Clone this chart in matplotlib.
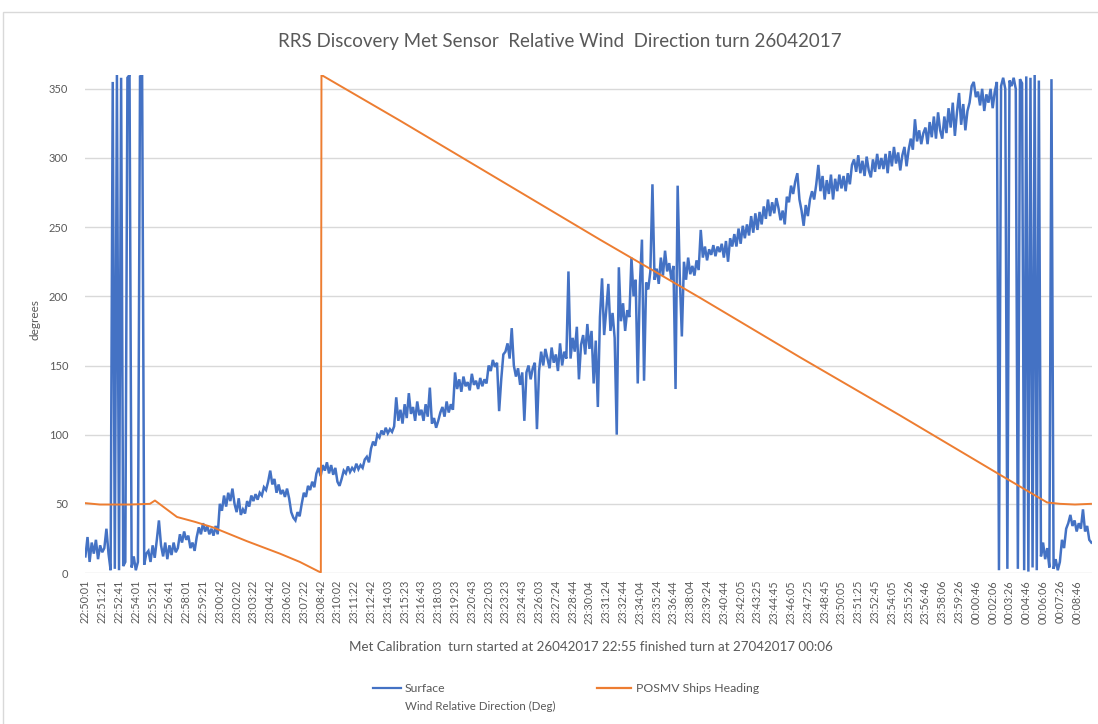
import matplotlib
matplotlib.use("Agg")
import matplotlib.pyplot as plt
import numpy as np
from matplotlib.lines import Line2D
from matplotlib.patches import Rectangle

plt.rcParams['font.family'] = ['Lato', 'DejaVu Sans']

title = "RRS Discovery Met Sensor  Relative Wind  Direction turn 26042017"
xlabel = "Met Calibration  turn started at 26042017 22:55 finished turn at 27042017 00:06"
ylabel = "degrees"
series_names = ["Surface\nWind Relative Direction (Deg)", "POSMV Ships Heading"]

tick_labels = [
    "22:50:01", "22:51:21", "22:52:41", "22:54:01", "22:55:21", "22:56:41", "22:58:01", "22:59:21",
    "23:00:42", "23:02:02", "23:03:22", "23:04:42", "23:06:02", "23:07:22", "23:08:42", "23:10:02",
    "23:11:22", "23:12:42", "23:14:03", "23:15:23", "23:16:43", "23:18:03", "23:19:23", "23:20:43",
    "23:22:03", "23:23:23", "23:24:43", "23:26:03", "23:27:24", "23:28:44", "23:30:04", "23:31:24",
    "23:32:44", "23:34:04", "23:35:24", "23:36:44", "23:38:04", "23:39:24", "23:40:44", "23:42:05",
    "23:43:25", "23:44:45", "23:46:05", "23:47:25", "23:48:45", "23:50:05", "23:51:25", "23:52:45",
    "23:54:05", "23:55:26", "23:56:46", "23:58:06", "23:59:26", "00:00:46", "00:02:06", "00:03:26",
    "00:04:46", "00:06:06", "00:07:26", "00:08:46",
]
tick_step_s = 80  # seconds between category labels

# Surface wind relative direction, one reading every 10 s from 22:50:01
wind_step_s = 10
wind_dir = [
    12, 26, 8, 22, 14, 24, 10, 20, 15, 18,
    32, 14, 2, 355, 3, 360, 2, 358, 5, 8,
    358, 360, 4, 12, 2, 8, 359, 360, 6, 14,
    16, 8, 20, 11, 24, 38, 20, 12, 22, 10,
    20, 13, 22, 15, 18, 28, 22, 30, 24, 27,
    18, 22, 16, 26, 33, 28, 36, 30, 34, 28,
    32, 27, 34, 28, 50, 45, 56, 48, 58, 52,
    61, 50, 44, 54, 42, 46, 43, 52, 48, 56,
    52, 57, 53, 58, 56, 62, 60, 66, 74, 64,
    68, 58, 64, 57, 60, 55, 61, 54, 44, 40,
    38, 44, 41, 50, 58, 55, 63, 60, 66, 62,
    72, 76, 70, 78, 74, 80, 72, 78, 71, 76,
    66, 63, 68, 74, 72, 77, 73, 76, 74, 79,
    75, 78, 76, 82, 84, 80, 90, 95, 92, 100,
    98, 103, 100, 105, 101, 104, 102, 106, 127, 110,
    118, 108, 122, 112, 130, 115, 120, 110, 124, 114,
    118, 110, 122, 113, 134, 108, 112, 105, 110, 116,
    120, 113, 124, 116, 122, 118, 145, 133, 140, 131,
    142, 135, 138, 132, 144, 136, 139, 133, 141, 135,
    140, 137, 150, 146, 154, 149, 152, 117, 140, 158,
    160, 166, 155, 177, 150, 142, 148, 136, 145, 110,
    145, 150, 140, 148, 152, 104, 146, 160, 150, 162,
    155, 148, 163, 152, 158, 146, 166, 150, 160, 155,
    218, 155, 170, 160, 178, 140, 165, 172, 158, 180,
    162, 175, 137, 168, 120, 185, 213, 172, 190, 209,
    175, 188, 170, 100, 221, 182, 195, 175, 190, 185,
    228, 200, 212, 137, 208, 241, 139, 210, 205, 218,
    281, 212, 220, 209, 228, 215, 233, 218, 224, 212,
    222, 133, 280, 215, 171, 225, 212, 228, 216, 222,
    215, 226, 219, 248, 228, 236, 226, 234, 230, 237,
    229, 236, 232, 238, 228, 240, 225, 242, 236, 245,
    236, 249, 238, 251, 242, 252, 244, 258, 246, 260,
    248, 261, 252, 265, 256, 270, 258, 268, 260, 271,
    264, 255, 262, 252, 272, 268, 280, 274, 283, 289,
    270, 262, 251, 266, 258, 270, 276, 270, 281, 295,
    276, 287, 270, 284, 274, 288, 270, 285, 276, 288,
    278, 287, 276, 289, 281, 295, 299, 290, 302, 289,
    298, 287, 301, 291, 286, 299, 290, 303, 292, 300,
    292, 303, 289, 305, 294, 308, 296, 304, 291, 302,
    308, 294, 306, 314, 306, 328, 312, 320, 310, 318,
    322, 310, 326, 315, 330, 314, 333, 320, 314, 330,
    318, 336, 322, 340, 316, 333, 347, 324, 339, 320,
    334, 340, 352, 355, 344, 348, 338, 350, 334, 346,
    340, 350, 336, 348, 355, 2, 352, 358, 350, 3,
    356, 352, 358, 350, 3, 357, 354, 2, 359, 1,
    358, 4, 360, 2, 356, 12, 22, 10, 18, 4,
    357, 3, 10, 2, 8, 24, 18, 32, 36, 42,
    34, 38, 30, 36, 32, 46, 30, 34, 24, 22,
]

# POSMV ships heading: (seconds after 22:50:01, degrees)
heading_t = [0, 69, 212, 307, 331, 436, 521, 607, 769, 926, 1021, 1112, 1121,
             1124, 1498, 1974, 2450, 2926, 3402, 3878, 4355, 4579, 4641, 4712, 4788]
heading = [50.5, 49.5, 49.5, 50, 52.4, 40.5, 37, 33, 23, 14, 8, 1, 0.5,
           360, 327, 284, 241, 199, 156, 114, 71, 51, 50, 49.5, 50]

BLUE = "#4472C4"
ORANGE = "#ED7D31"
GRID = "#D9D9D9"
TXT = "#595959"

W, H = 1098, 724
fig = plt.figure(figsize=(W / 100, H / 100), dpi=100)
fig.patch.set_facecolor("white")

# chart border
fig.add_artist(Rectangle((3 / W, -0.05), 1.2, (H - 12) / H + 0.05, transform=fig.transFigure,
                         fill=False, edgecolor=GRID, linewidth=1.0))

ax = fig.add_axes([85 / W, 1 - 573 / H, (1092 - 85) / W, (573 - 75) / H])
wind_t = np.arange(len(wind_dir)) * wind_step_s
ax.plot(wind_t, wind_dir, color=BLUE, lw=1.8, solid_joinstyle="miter", zorder=3)
ax.plot(heading_t, heading, color=ORANGE, lw=1.4, zorder=4)

ax.set_ylim(0, 360)
ax.set_xlim(-2, 4793)
ax.set_yticks(np.arange(0, 351, 50))
ax.set_xticks(np.arange(len(tick_labels)) * tick_step_s)
ax.set_xticklabels(tick_labels, rotation=90, fontsize=7.8, color=TXT)
ax.tick_params(axis="y", labelsize=8, colors=TXT, length=0, pad=12)
ax.tick_params(axis="x", length=0, pad=5)
ax.grid(axis="y", color=GRID, lw=1.0, zorder=0)
for s in ax.spines.values():
    s.set_visible(False)
ax.set_axisbelow(True)

fig.text(560 / W, 1 - 41 / H, title, ha="center", va="center", fontsize=13.5, color=TXT)
fig.text(35 / W, 1 - 320 / H, ylabel, ha="center", va="center", rotation=90, fontsize=8.5, color=TXT)
fig.text(591 / W, 1 - 647 / H, xlabel, ha="center", va="center", fontsize=9.6, color=TXT)

# legend
fig.add_artist(Line2D([373 / W, 401 / W], [1 - 688 / H, 1 - 688 / H], color=BLUE, lw=1.6,
                      transform=fig.transFigure))
name1, name2 = series_names[0].split("\n")
fig.text(405 / W, 1 - 688 / H, name1, ha="left", va="center", fontsize=8.8, color=TXT)
fig.text(405 / W, 1 - 706 / H, name2, ha="left", va="center", fontsize=8.3, color=TXT)
fig.add_artist(Line2D([597 / W, 631 / W], [1 - 688 / H, 1 - 688 / H], color=ORANGE, lw=1.6,
                      transform=fig.transFigure))
fig.text(636 / W, 1 - 688 / H, series_names[1], ha="left", va="center", fontsize=8.8, color=TXT)

fig.savefig("out.png", dpi=100, facecolor="white")
